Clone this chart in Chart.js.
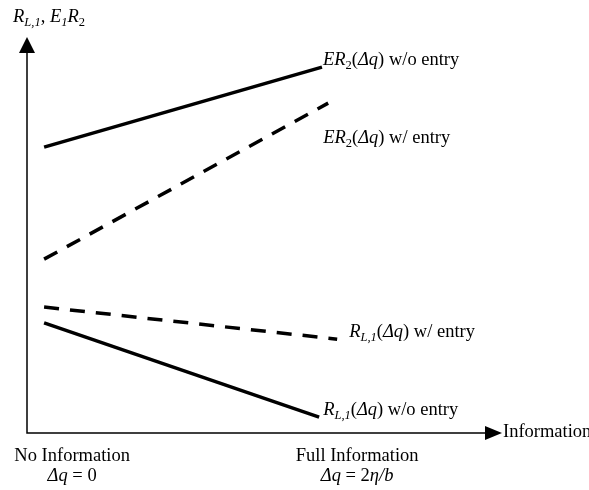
<!DOCTYPE html>
<html>
<head>
<meta charset="utf-8">
<script src="https://cdn.jsdelivr.net/npm/chart.js@4.4.1/dist/chart.umd.min.js"></script>
<style>
  html, body { margin: 0; padding: 0; background: #fff; }
  #wrap { width: 589px; height: 490px; }
</style>
</head>
<body>
<div id="wrap"><canvas id="chart"></canvas></div>
<script>
// values (axis units 0..100)
var erWithoutEntry = [{x: 3.6, y: 72.2}, {x: 62.1, y: 92.4}];
var erWithEntry = [{x: 3.6, y: 43.9}, {x: 63.4, y: 83.3}];
var rlWithEntry = [{x: 3.6, y: 31.8}, {x: 65.3, y: 23.7}];
var rlWithoutEntry = [{x: 3.6, y: 27.8}, {x: 61.5, y: 4.0}];

// x axis annotations
var tickValues = [9.5, 69.5];
var tickTop = ['No Information', 'Full Information'];
var tickBottom = [
    [['Δq', 'i'], [' = 0', 'n']],
    [['Δq', 'i'], [' = 2', 'n'], ['η/b', 'i']]
];

var FONT = '"Liberation Serif", "Times New Roman", serif';

// rich text pieces: n normal, i italic, s italic subscript, sn upright subscript
function fontFor(style) {
    if (style === 'i') return 'italic 18.5px ' + FONT;
    if (style === 's') return 'italic 12.5px ' + FONT;
    if (style === 'sn') return '12.5px ' + FONT;
    return '18.5px ' + FONT;
}
function richWidth(ctx, segs) {
    var w = 0;
    segs.forEach(function(s) { ctx.font = fontFor(s[1]); w += ctx.measureText(s[0]).width; });
    return w;
}
function drawRich(ctx, segs, x, y, align) {
    if (align === 'center') x -= richWidth(ctx, segs) / 2;
    ctx.textBaseline = 'alphabetic';
    ctx.textAlign = 'left';
    segs.forEach(function(s) {
        ctx.font = fontFor(s[1]);
        var dy = (s[1] === 's' || s[1] === 'sn') ? 4 : 0;
        ctx.fillText(s[0], x, y + dy);
        x += ctx.measureText(s[0]).width;
    });
}

var seriesLabels = [
    {ds: 0, dx: 1, dy: -2, segs: [['ER', 'i'], ['2', 'sn'], ['(', 'n'], ['Δq', 'i'], [') w/o entry', 'n']]},
    {ds: 1, dx: -5, dy: 40, segs: [['ER', 'i'], ['2', 'sn'], ['(', 'n'], ['Δq', 'i'], [') w/ entry', 'n']]},
    {ds: 2, dx: 12, dy: -2, segs: [['R', 'i'], ['L,1', 's'], ['(', 'n'], ['Δq', 'i'], [') w/ entry', 'n']]},
    {ds: 3, dx: 4, dy: -2, segs: [['R', 'i'], ['L,1', 's'], ['(', 'n'], ['Δq', 'i'], [') w/o entry', 'n']]}
];

var axesPlugin = {
    id: 'axesPlugin',
    afterDraw: function(chart) {
        var ctx = chart.ctx;
        var a = chart.chartArea;
        var xs = chart.scales.x;
        ctx.save();
        ctx.fillStyle = '#000';
        ctx.strokeStyle = '#000';
        ctx.lineWidth = 1.5;
        // axis lines
        ctx.beginPath();
        ctx.moveTo(a.left, a.top + 14);
        ctx.lineTo(a.left, a.bottom);
        ctx.lineTo(a.right - 16, a.bottom);
        ctx.stroke();
        // arrow heads
        ctx.beginPath();
        ctx.moveTo(a.left, a.top);
        ctx.lineTo(a.left - 8, a.top + 16);
        ctx.lineTo(a.left + 8, a.top + 16);
        ctx.closePath();
        ctx.fill();
        ctx.beginPath();
        ctx.moveTo(a.right, a.bottom);
        ctx.lineTo(a.right - 17, a.bottom - 7);
        ctx.lineTo(a.right - 17, a.bottom + 7);
        ctx.closePath();
        ctx.fill();

        // axis titles
        drawRich(ctx, [['R', 'i'], ['L,1', 's'], [', ', 'n'], ['E', 'i'], ['1', 's'], ['R', 'i'], ['2', 'sn']], 13, 22, 'left');
        drawRich(ctx, [['Information', 'n']], a.right + 1, a.bottom + 4, 'left');

        // x annotations
        tickValues.forEach(function(v, i) {
            var px = xs.getPixelForValue(v);
            drawRich(ctx, [[tickTop[i], 'n']], px, a.bottom + 28, 'center');
            drawRich(ctx, tickBottom[i], px, a.bottom + 48, 'center');
        });

        // series labels next to the line ends
        seriesLabels.forEach(function(l) {
            var pts = chart.getDatasetMeta(l.ds).data;
            var end = pts[pts.length - 1];
            drawRich(ctx, l.segs, end.x + l.dx, end.y + l.dy, 'left');
        });
        ctx.restore();
    }
};

function lineSet(data, dashed) {
    return {
        data: data,
        borderColor: '#000',
        borderWidth: 3.5,
        borderDash: dashed ? [15, 11] : [],
        pointRadius: 0,
        fill: false,
        tension: 0,
        borderCapStyle: 'butt'
    };
}

new Chart(document.getElementById('chart').getContext('2d'), {
    type: 'line',
    data: {
        datasets: [
            lineSet(erWithoutEntry, false),
            lineSet(erWithEntry, true),
            lineSet(rlWithEntry, true),
            lineSet(rlWithoutEntry, false)
        ]
    },
    options: {
        responsive: true,
        maintainAspectRatio: false,
        animation: false,
        layout: { padding: { left: 27, right: 87, top: 37, bottom: 57 } },
        plugins: { legend: { display: false }, tooltip: { enabled: false } },
        scales: {
            x: { type: 'linear', min: 0, max: 100, display: false },
            y: { type: 'linear', min: 0, max: 100, display: false }
        }
    },
    plugins: [axesPlugin]
});
</script>
</body>
</html>
